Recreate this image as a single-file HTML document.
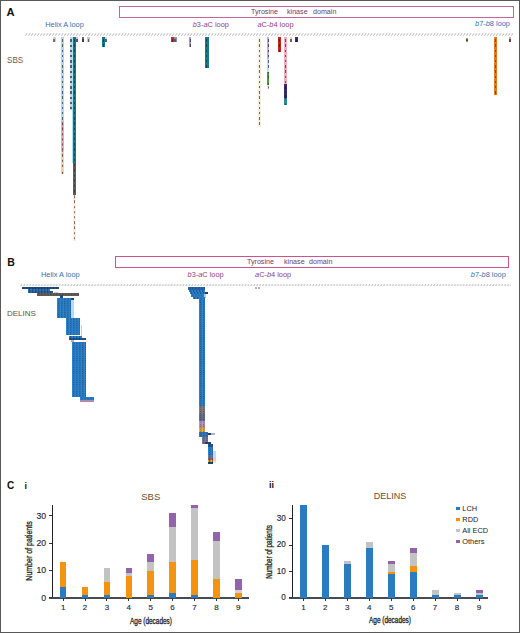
<!DOCTYPE html>
<html><head><meta charset="utf-8"><style>
html,body{margin:0;padding:0;background:#fff;}
#r{position:relative;width:520px;height:633px;overflow:hidden;background:#fff;}
#bd{left:0;top:0;width:520px;height:633px;box-sizing:border-box;border:1px solid #585858;z-index:9;}
#r div{position:absolute;}
.t{font-family:"Liberation Sans", sans-serif;line-height:1;white-space:nowrap;}
</style></head><body><div id="r">
<div class="t" style="left:6.5px;top:6.72px;font-size:11.2px;color:#111;font-weight:bold;font-style:normal;">A</div>
<div style="left:119px;top:5.8px;width:395px;height:12.4px;background:transparent;border:1.1px solid #c4649a;box-sizing:border-box;"></div>
<div class="t" style="left:251px;top:8.15px;font-size:7.5px;color:#6e3d6a;font-weight:normal;font-style:normal;transform:scaleX(0.95);transform-origin:0 0;">Tyrosine</div>
<div class="t" style="left:287.2px;top:8.15px;font-size:7.5px;color:#6e3d6a;font-weight:normal;font-style:normal;transform:scaleX(0.95);transform-origin:0 0;">kinase</div>
<div class="t" style="left:313.2px;top:8.15px;font-size:7.5px;color:#6e3d6a;font-weight:normal;font-style:normal;transform:scaleX(0.95);transform-origin:0 0;">domain</div>
<div class="t" style="left:45.2px;top:20.84px;font-size:7.4px;color:#3174b0;font-weight:normal;font-style:normal;">Helix A loop</div>
<div class="t" style="left:192.7px;top:20.74px;font-size:7.4px;color:#963a88;font-weight:normal;font-style:normal;"><i>b</i>3-<i>a</i>C loop</div>
<div class="t" style="left:257.4px;top:20.74px;font-size:7.4px;color:#963a88;font-weight:normal;font-style:normal;"><i>a</i>C-<i>b</i>4 loop</div>
<div class="t" style="left:475px;top:20.44px;font-size:7.4px;color:#3174b0;font-weight:normal;font-style:normal;"><i>b</i>7-<i>b</i>8 loop</div>
<div class="t" style="left:6.5px;top:56.02px;font-size:8.6px;color:#775a36;font-weight:normal;font-style:normal;transform:scaleX(0.94);transform-origin:0 0;">SBS</div>
<svg style="position:absolute;left:25px;top:32.8px" width="488" height="3.0"><defs><pattern id="pa" x="0" y="0" width="3.0" height="3.0" patternUnits="userSpaceOnUse"><path d="M0.45 2.70 L1.95 0.3" stroke="#a8a8a8" stroke-width="0.9" fill="none"/></pattern></defs><rect width="488" height="3.0" fill="url(#pa)"/></svg>
<div style="left:53.4px;top:37.2px;width:2.2px;height:4.599999999999994px;background:#d0d0d0;background:linear-gradient(90deg,#d0d0d0 0 0.40px,transparent 0.40px 1.80px,#d0d0d0 1.80px),repeating-linear-gradient(180deg,transparent 0 2.3px,#707070 2.3px 4.7px,transparent 4.7px 5.2px) 0 -0.00px,#d0d0d0;"></div>
<div style="left:61.2px;top:37.2px;width:2.7px;height:83.8px;background:#bad2ee;background:linear-gradient(90deg,#bad2ee 0 0.55px,transparent 0.55px 2.15px,#bad2ee 2.15px),repeating-linear-gradient(180deg,transparent 0 2.3px,#535e6b 2.3px 4.7px,transparent 4.7px 5.2px) 0 -0.00px,#bad2ee;"></div>
<div style="left:61.2px;top:121px;width:2.7px;height:29.599999999999994px;background:#e8aab6;background:linear-gradient(90deg,#e8aab6 0 0.55px,transparent 0.55px 2.15px,#e8aab6 2.15px),repeating-linear-gradient(180deg,transparent 0 2.3px,#684c51 2.3px 4.7px,transparent 4.7px 5.2px) 0 -0.60px,#e8aab6;"></div>
<div style="left:61.2px;top:150.6px;width:2.7px;height:23.099999999999994px;background:#f6ceb0;background:linear-gradient(90deg,#f6ceb0 0 0.55px,transparent 0.55px 2.15px,#f6ceb0 2.15px),repeating-linear-gradient(180deg,transparent 0 2.3px,#6e5c4f 2.3px 4.7px,transparent 4.7px 5.2px) 0 -4.20px,#f6ceb0;"></div>
<div style="left:70.2px;top:37.2px;width:2.3px;height:72.8px;background:#bad2ee;background:linear-gradient(90deg,#bad2ee 0 0.40px,transparent 0.40px 1.90px,#bad2ee 1.90px),repeating-linear-gradient(180deg,transparent 0 2.3px,#535e6b 2.3px 4.7px,transparent 4.7px 5.2px) 0 -0.00px,#bad2ee;"></div>
<div style="left:72.4px;top:37.2px;width:1.1px;height:126px;background:#a8e0ee;"></div>
<div style="left:73.4px;top:37.2px;width:2.7px;height:126.2px;background:#12798a;background:linear-gradient(90deg,#12798a 0 0.55px,transparent 0.55px 2.15px,#12798a 2.15px),repeating-linear-gradient(180deg,transparent 0 2.3px,#0b4b55 2.3px 4.7px,transparent 4.7px 5.2px) 0 -0.00px,#12798a;"></div>
<div style="left:73.4px;top:163.4px;width:2.7px;height:31.599999999999994px;background:#5e5e5e;background:linear-gradient(90deg,#5e5e5e 0 0.55px,transparent 0.55px 2.15px,#5e5e5e 2.15px),repeating-linear-gradient(180deg,transparent 0 2.3px,#3a3a3a 2.3px 4.7px,transparent 4.7px 5.2px) 0 -1.40px,#5e5e5e;"></div>
<div style="left:73px;top:195px;width:3px;height:46px;background:#fdeee4;background:linear-gradient(90deg,#fdeee4 0 0.70px,transparent 0.70px 2.30px,#fdeee4 2.30px),repeating-linear-gradient(180deg,transparent 0 2.3px,rgba(40,30,30,0.6) 2.3px 4.7px,transparent 4.7px 5.2px) 0 -1.80px,#fdeee4;"></div>
<div style="left:76.2px;top:37.2px;width:2px;height:5.099999999999994px;background:#c2c6e6;background:linear-gradient(90deg,#c2c6e6 0 0.40px,transparent 0.40px 1.60px,#c2c6e6 1.60px),repeating-linear-gradient(180deg,transparent 0 2.3px,#575967 2.3px 4.7px,transparent 4.7px 5.2px) 0 -0.00px,#c2c6e6;"></div>
<div style="left:81.5px;top:37.2px;width:2.4px;height:5.099999999999994px;background:#6a6a6a;background:linear-gradient(90deg,#6a6a6a 0 0.40px,transparent 0.40px 2.00px,#6a6a6a 2.00px),repeating-linear-gradient(180deg,transparent 0 2.3px,#3a3a3a 2.3px 4.7px,transparent 4.7px 5.2px) 0 -0.00px,#6a6a6a;"></div>
<div style="left:87.4px;top:37.2px;width:2.8px;height:5.099999999999994px;background:#c8ccd4;background:linear-gradient(90deg,#c8ccd4 0 0.60px,transparent 0.60px 2.20px,#c8ccd4 2.20px),repeating-linear-gradient(180deg,transparent 0 2.3px,#5a5b5f 2.3px 4.7px,transparent 4.7px 5.2px) 0 -0.00px,#c8ccd4;"></div>
<div style="left:102px;top:37.2px;width:3px;height:10.299999999999997px;background:#12798a;background:linear-gradient(90deg,#12798a 0 0.70px,transparent 0.70px 2.30px,#12798a 2.30px),repeating-linear-gradient(180deg,transparent 0 2.3px,#0b4b55 2.3px 4.7px,transparent 4.7px 5.2px) 0 -0.00px,#12798a;"></div>
<div style="left:105.2px;top:37.2px;width:2px;height:4.799999999999997px;background:#c6d8ee;background:linear-gradient(90deg,#c6d8ee 0 0.40px,transparent 0.40px 1.60px,#c6d8ee 1.60px),repeating-linear-gradient(180deg,transparent 0 2.3px,#59616b 2.3px 4.7px,transparent 4.7px 5.2px) 0 -0.00px,#c6d8ee;"></div>
<div style="left:171px;top:37.2px;width:3.4px;height:4.599999999999994px;background:#c2301f;background:linear-gradient(90deg,#c2301f 0 0.90px,transparent 0.90px 2.50px,#c2301f 2.50px),repeating-linear-gradient(180deg,transparent 0 2.3px,#781d13 2.3px 4.7px,transparent 4.7px 5.2px) 0 -0.00px,#c2301f;"></div>
<div style="left:174.4px;top:37.2px;width:2.3px;height:4.599999999999994px;background:#8894aa;background:linear-gradient(90deg,#8894aa 0 0.40px,transparent 0.40px 1.90px,#8894aa 1.90px),repeating-linear-gradient(180deg,transparent 0 2.3px,#545b69 2.3px 4.7px,transparent 4.7px 5.2px) 0 -0.00px,#8894aa;"></div>
<div style="left:188.6px;top:37.2px;width:2.9px;height:9.799999999999997px;background:#a898c8;background:linear-gradient(90deg,#a898c8 0 0.65px,transparent 0.65px 2.25px,#a898c8 2.25px),repeating-linear-gradient(180deg,transparent 0 2.3px,#4b445a 2.3px 4.7px,transparent 4.7px 5.2px) 0 -0.00px,#a898c8;"></div>
<div style="left:205.4px;top:37.2px;width:3.2px;height:31.200000000000003px;background:#12798a;background:linear-gradient(90deg,#12798a 0 0.80px,transparent 0.80px 2.40px,#12798a 2.40px),repeating-linear-gradient(180deg,transparent 0 2.3px,#0b4b55 2.3px 4.7px,transparent 4.7px 5.2px) 0 -0.00px,#12798a;"></div>
<div style="left:258px;top:37.2px;width:2.8px;height:89.8px;background:#f5efe2;background:linear-gradient(90deg,#f5efe2 0 0.60px,transparent 0.60px 2.20px,#f5efe2 2.20px),repeating-linear-gradient(180deg,transparent 0 2.3px,#6a6a6a 2.3px 4.7px,transparent 4.7px 5.2px) 0 -0.00px,#f5efe2;"></div>
<div style="left:266.6px;top:37.2px;width:2.7px;height:21.799999999999997px;background:#b6aee0;background:linear-gradient(90deg,#b6aee0 0 0.55px,transparent 0.55px 2.15px,#b6aee0 2.15px),repeating-linear-gradient(180deg,transparent 0 2.3px,#514e64 2.3px 4.7px,transparent 4.7px 5.2px) 0 -0.00px,#b6aee0;"></div>
<div style="left:266.6px;top:59px;width:2.7px;height:13px;background:#c8daf8;background:linear-gradient(90deg,#c8daf8 0 0.55px,transparent 0.55px 2.15px,#c8daf8 2.15px),repeating-linear-gradient(180deg,transparent 0 2.3px,#5a626f 2.3px 4.7px,transparent 4.7px 5.2px) 0 -1.00px,#c8daf8;"></div>
<div style="left:266.6px;top:72px;width:2.7px;height:12.599999999999994px;background:#4c9a3c;background:linear-gradient(90deg,#4c9a3c 0 0.55px,transparent 0.55px 2.15px,#4c9a3c 2.15px),repeating-linear-gradient(180deg,transparent 0 2.3px,#2f5f25 2.3px 4.7px,transparent 4.7px 5.2px) 0 -3.60px,#4c9a3c;"></div>
<div style="left:266.6px;top:84.6px;width:2.7px;height:4.400000000000006px;background:#ece4d4;background:linear-gradient(90deg,#ece4d4 0 0.55px,transparent 0.55px 2.15px,#ece4d4 2.15px),repeating-linear-gradient(180deg,transparent 0 2.3px,#6a665f 2.3px 4.7px,transparent 4.7px 5.2px) 0 -0.60px,#ece4d4;"></div>
<div style="left:277.7px;top:37.2px;width:3.2px;height:15.299999999999997px;background:#bb2a18;background:linear-gradient(90deg,#bb2a18 0 0.80px,transparent 0.80px 2.40px,#bb2a18 2.40px),repeating-linear-gradient(180deg,transparent 0 2.3px,#731a0e 2.3px 4.7px,transparent 4.7px 5.2px) 0 -0.00px,#bb2a18;"></div>
<div style="left:283.5px;top:37.2px;width:3.2px;height:46.599999999999994px;background:#eeb0bf;background:linear-gradient(90deg,#eeb0bf 0 0.80px,transparent 0.80px 2.40px,#eeb0bf 2.40px),repeating-linear-gradient(180deg,transparent 0 2.3px,#6b4f55 2.3px 4.7px,transparent 4.7px 5.2px) 0 -0.00px,#eeb0bf;"></div>
<div style="left:283.5px;top:83.8px;width:3.2px;height:14.200000000000003px;background:#3a2c6c;background:linear-gradient(90deg,#3a2c6c 0 0.80px,transparent 0.80px 2.40px,#3a2c6c 2.40px),repeating-linear-gradient(180deg,transparent 0 2.3px,#231b42 2.3px 4.7px,transparent 4.7px 5.2px) 0 -5.00px,#3a2c6c;"></div>
<div style="left:283.5px;top:98px;width:3.2px;height:7px;background:#2a8aa0;background:linear-gradient(90deg,#2a8aa0 0 0.80px,transparent 0.80px 2.40px,#2a8aa0 2.40px),repeating-linear-gradient(180deg,transparent 0 2.3px,#1a5563 2.3px 4.7px,transparent 4.7px 5.2px) 0 -3.60px,#2a8aa0;"></div>
<div style="left:289.9px;top:37.2px;width:2px;height:4.799999999999997px;background:#f4d2b0;background:linear-gradient(90deg,#f4d2b0 0 0.40px,transparent 0.40px 1.60px,#f4d2b0 1.60px),repeating-linear-gradient(180deg,transparent 0 2.3px,#6d5e4f 2.3px 4.7px,transparent 4.7px 5.2px) 0 -0.00px,#f4d2b0;"></div>
<div style="left:295px;top:37.2px;width:2.8px;height:4.799999999999997px;background:#3c2c72;background:linear-gradient(90deg,#3c2c72 0 0.60px,transparent 0.60px 2.20px,#3c2c72 2.20px),repeating-linear-gradient(180deg,transparent 0 2.3px,#251b46 2.3px 4.7px,transparent 4.7px 5.2px) 0 -0.00px,#3c2c72;"></div>
<div style="left:465.6px;top:38px;width:2.3px;height:4px;background:#a8a878;background:linear-gradient(90deg,#a8a878 0 0.40px,transparent 0.40px 1.90px,#a8a878 1.90px),repeating-linear-gradient(180deg,transparent 0 2.3px,#4b4b36 2.3px 4.7px,transparent 4.7px 5.2px) 0 -0.80px,#a8a878;"></div>
<div style="left:494.4px;top:37.2px;width:2.9px;height:57.8px;background:#e07a22;background:linear-gradient(90deg,#e07a22 0 0.65px,transparent 0.65px 2.25px,#e07a22 2.25px),repeating-linear-gradient(180deg,transparent 0 2.3px,#8a4b15 2.3px 4.7px,transparent 4.7px 5.2px) 0 -0.00px,#e07a22;"></div>
<div style="left:508.8px;top:37.2px;width:2.6px;height:4.799999999999997px;background:#d6a4a4;background:linear-gradient(90deg,#d6a4a4 0 0.50px,transparent 0.50px 2.10px,#d6a4a4 2.10px),repeating-linear-gradient(180deg,transparent 0 2.3px,#604949 2.3px 4.7px,transparent 4.7px 5.2px) 0 -0.00px,#d6a4a4;"></div>
<div class="t" style="left:7.2px;top:257.11px;font-size:10.5px;color:#111;font-weight:bold;font-style:normal;">B</div>
<div style="left:115px;top:256.3px;width:394px;height:11.4px;background:transparent;border:1.1px solid #c85490;box-sizing:border-box;"></div>
<div class="t" style="left:247.3px;top:258.25px;font-size:7.5px;color:#6e3d6a;font-weight:normal;font-style:normal;transform:scaleX(0.95);transform-origin:0 0;">Tyrosine</div>
<div class="t" style="left:283.6px;top:258.25px;font-size:7.5px;color:#6e3d6a;font-weight:normal;font-style:normal;transform:scaleX(0.95);transform-origin:0 0;">kinase</div>
<div class="t" style="left:308.8px;top:258.25px;font-size:7.5px;color:#6e3d6a;font-weight:normal;font-style:normal;transform:scaleX(0.95);transform-origin:0 0;">domain</div>
<div class="t" style="left:41px;top:270.94px;font-size:7.4px;color:#3174b0;font-weight:normal;font-style:normal;">Helix A loop</div>
<div class="t" style="left:187.5px;top:271.34px;font-size:7.4px;color:#963a88;font-weight:normal;font-style:normal;"><i>b</i>3-<i>a</i>C loop</div>
<div class="t" style="left:255px;top:270.94px;font-size:7.4px;color:#963a88;font-weight:normal;font-style:normal;"><i>a</i>C-<i>b</i>4 loop</div>
<div class="t" style="left:470.8px;top:271.14px;font-size:7.4px;color:#3174b0;font-weight:normal;font-style:normal;"><i>b</i>7-<i>b</i>8 loop</div>
<div class="t" style="left:6.9px;top:309.93px;font-size:8px;color:#6e5232;font-weight:normal;font-style:normal;">DELINS</div>
<svg style="position:absolute;left:19.8px;top:283.6px" width="491" height="2.3"><defs><pattern id="pb" x="0" y="0" width="2.95" height="2.3" patternUnits="userSpaceOnUse"><path d="M0.44 2.00 L1.92 0.3" stroke="#a8a8a8" stroke-width="0.9" fill="none"/></pattern></defs><rect width="491" height="2.3" fill="url(#pb)"/></svg>
<div style="left:21.8px;top:286.7px;width:37.2px;height:2.3000000000000114px;background:#234f80;background:radial-gradient(ellipse 0.9px 0.8px at 1.5px 1.1px,rgba(10,40,80,0.45) 0 70%,transparent 100%) 0 0/3px 2.2px,repeating-linear-gradient(90deg,transparent 0 2.4px,rgba(10,40,80,0.15) 2.4px 3px),#234f80;"></div>
<div style="left:28px;top:289px;width:22.299999999999997px;height:2.1999999999999886px;background:#3474b2;background:radial-gradient(ellipse 0.9px 0.8px at 1.5px 1.1px,rgba(10,40,80,0.45) 0 70%,transparent 100%) 0 0/3px 2.2px,repeating-linear-gradient(90deg,transparent 0 2.4px,rgba(10,40,80,0.15) 2.4px 3px),#3474b2;"></div>
<div style="left:28px;top:291.2px;width:25.4px;height:2.1999999999999886px;background:#2767a8;background:radial-gradient(ellipse 0.9px 0.8px at 1.5px 1.1px,rgba(10,40,80,0.45) 0 70%,transparent 100%) 0 0/3px 2.2px,repeating-linear-gradient(90deg,transparent 0 2.4px,rgba(10,40,80,0.15) 2.4px 3px),#2767a8;"></div>
<div style="left:53.6px;top:291.6px;width:4.5px;height:1.4px;background:rgba(150,150,150,0.5);"></div>
<div style="left:36.5px;top:293.4px;width:42.400000000000006px;height:2.2000000000000455px;background:#6a5e52;background:radial-gradient(ellipse 0.9px 0.8px at 1.5px 1.1px,rgba(10,40,80,0.45) 0 70%,transparent 100%) 0 0/3px 2.2px,repeating-linear-gradient(90deg,transparent 0 2.4px,rgba(10,40,80,0.15) 2.4px 3px),#6a5e52;"></div>
<div style="left:60.3px;top:295.4px;width:2.3000000000000043px;height:2.5px;background:#1f4f86;background:radial-gradient(ellipse 0.9px 0.8px at 1.5px 1.1px,rgba(10,40,80,0.45) 0 70%,transparent 100%) 0 0/3px 2.2px,repeating-linear-gradient(90deg,transparent 0 2.4px,rgba(10,40,80,0.15) 2.4px 3px),#1f4f86;"></div>
<div style="left:56.7px;top:297.9px;width:14.299999999999997px;height:19.80000000000001px;background:#2d82cb;background:radial-gradient(ellipse 0.9px 0.8px at 1.5px 1.1px,rgba(10,40,80,0.45) 0 70%,transparent 100%) 0 0/3px 2.2px,repeating-linear-gradient(90deg,transparent 0 2.4px,rgba(10,40,80,0.15) 2.4px 3px),#2d82cb;"></div>
<div style="left:71px;top:300px;width:2.5px;height:17.7px;background:#bcdaf2;"></div>
<div style="left:71px;top:297.9px;width:2.700000000000003px;height:2.1000000000000227px;background:#1f4f86;background:radial-gradient(ellipse 0.9px 0.8px at 1.5px 1.1px,rgba(10,40,80,0.45) 0 70%,transparent 100%) 0 0/3px 2.2px,repeating-linear-gradient(90deg,transparent 0 2.4px,rgba(10,40,80,0.15) 2.4px 3px),#1f4f86;"></div>
<div style="left:65.8px;top:317.7px;width:14.200000000000003px;height:17.80000000000001px;background:#2d82cb;background:radial-gradient(ellipse 0.9px 0.8px at 1.5px 1.1px,rgba(10,40,80,0.45) 0 70%,transparent 100%) 0 0/3px 2.2px,repeating-linear-gradient(90deg,transparent 0 2.4px,rgba(10,40,80,0.15) 2.4px 3px),#2d82cb;"></div>
<div style="left:80.5px;top:325px;width:1.5px;height:10.5px;background:#b8d4ea;"></div>
<div style="left:68.6px;top:335.5px;width:13.800000000000011px;height:2.5px;background:#2d82cb;background:radial-gradient(ellipse 0.9px 0.8px at 1.5px 1.1px,rgba(10,40,80,0.45) 0 70%,transparent 100%) 0 0/3px 2.2px,repeating-linear-gradient(90deg,transparent 0 2.4px,rgba(10,40,80,0.15) 2.4px 3px),#2d82cb;"></div>
<div style="left:68.6px;top:338px;width:17.0px;height:1.8000000000000114px;background:#1f5a94;background:radial-gradient(ellipse 0.9px 0.8px at 1.5px 1.1px,rgba(10,40,80,0.45) 0 70%,transparent 100%) 0 0/3px 2.2px,repeating-linear-gradient(90deg,transparent 0 2.4px,rgba(10,40,80,0.15) 2.4px 3px),#1f5a94;"></div>
<div style="left:71.3px;top:340px;width:2.4px;height:1.6px;background:#e0a0b0;"></div>
<div style="left:71.6px;top:342.2px;width:14.400000000000006px;height:55.19999999999999px;background:#2d82cb;background:radial-gradient(ellipse 0.9px 0.8px at 1.5px 1.1px,rgba(10,40,80,0.45) 0 70%,transparent 100%) 0 0/3px 2.2px,repeating-linear-gradient(90deg,transparent 0 2.4px,rgba(10,40,80,0.15) 2.4px 3px),#2d82cb;"></div>
<div style="left:79.9px;top:397.4px;width:14.399999999999991px;height:2.8000000000000114px;background:#2d82cb;background:radial-gradient(ellipse 0.9px 0.8px at 1.5px 1.1px,rgba(10,40,80,0.45) 0 70%,transparent 100%) 0 0/3px 2.2px,repeating-linear-gradient(90deg,transparent 0 2.4px,rgba(10,40,80,0.15) 2.4px 3px),#2d82cb;"></div>
<div style="left:79.9px;top:400.2px;width:14.4px;height:1.6px;background:#b08aa8;"></div>
<div style="left:187.8px;top:287.2px;width:16.899999999999977px;height:2.400000000000034px;background:#2769ad;background:radial-gradient(ellipse 0.9px 0.8px at 1.5px 1.1px,rgba(10,40,80,0.45) 0 70%,transparent 100%) 0 0/3px 2.2px,repeating-linear-gradient(90deg,transparent 0 2.4px,rgba(10,40,80,0.15) 2.4px 3px),#2769ad;"></div>
<div style="left:188.6px;top:289.6px;width:16.900000000000006px;height:2.3999999999999773px;background:#2d82cb;background:radial-gradient(ellipse 0.9px 0.8px at 1.5px 1.1px,rgba(10,40,80,0.45) 0 70%,transparent 100%) 0 0/3px 2.2px,repeating-linear-gradient(90deg,transparent 0 2.4px,rgba(10,40,80,0.15) 2.4px 3px),#2d82cb;"></div>
<div style="left:190.2px;top:292px;width:15.100000000000023px;height:2.3000000000000114px;background:#2d82cb;background:radial-gradient(ellipse 0.9px 0.8px at 1.5px 1.1px,rgba(10,40,80,0.45) 0 70%,transparent 100%) 0 0/3px 2.2px,repeating-linear-gradient(90deg,transparent 0 2.4px,rgba(10,40,80,0.15) 2.4px 3px),#2d82cb;"></div>
<div style="left:205.3px;top:292.3px;width:2.4px;height:1.5px;background:#1d3f6a;"></div>
<div style="left:191.2px;top:294.3px;width:12.5px;height:2.3000000000000114px;background:#2d82cb;background:radial-gradient(ellipse 0.9px 0.8px at 1.5px 1.1px,rgba(10,40,80,0.45) 0 70%,transparent 100%) 0 0/3px 2.2px,repeating-linear-gradient(90deg,transparent 0 2.4px,rgba(10,40,80,0.15) 2.4px 3px),#2d82cb;"></div>
<div style="left:203.7px;top:294.3px;width:2.3px;height:3.5px;background:#a8d0ee;"></div>
<div style="left:193.4px;top:296.6px;width:5.900000000000006px;height:2.3999999999999773px;background:#2d82cb;background:radial-gradient(ellipse 0.9px 0.8px at 1.5px 1.1px,rgba(10,40,80,0.45) 0 70%,transparent 100%) 0 0/3px 2.2px,repeating-linear-gradient(90deg,transparent 0 2.4px,rgba(10,40,80,0.15) 2.4px 3px),#2d82cb;"></div>
<div style="left:199.3px;top:296.6px;width:5.5px;height:109.29999999999995px;background:#2d82cb;background:radial-gradient(ellipse 0.9px 0.8px at 1.5px 1.1px,rgba(10,40,80,0.45) 0 70%,transparent 100%) 0 0/3px 2.2px,repeating-linear-gradient(90deg,transparent 0 2.4px,rgba(10,40,80,0.15) 2.4px 3px),#2d82cb;"></div>
<div style="left:199.2px;top:405.9px;width:5.600000000000023px;height:8.100000000000023px;background:#8c7c7e;background:radial-gradient(ellipse 0.9px 0.8px at 1.5px 1.1px,rgba(10,40,80,0.45) 0 70%,transparent 100%) 0 0/3px 2.2px,repeating-linear-gradient(90deg,transparent 0 2.4px,rgba(10,40,80,0.15) 2.4px 3px),#8c7c7e;"></div>
<div style="left:199.2px;top:414px;width:5.600000000000023px;height:7px;background:#6c7284;background:radial-gradient(ellipse 0.9px 0.8px at 1.5px 1.1px,rgba(10,40,80,0.45) 0 70%,transparent 100%) 0 0/3px 2.2px,repeating-linear-gradient(90deg,transparent 0 2.4px,rgba(10,40,80,0.15) 2.4px 3px),#6c7284;"></div>
<div style="left:199.2px;top:421px;width:5.600000000000023px;height:4.300000000000011px;background:#b598dc;background:radial-gradient(ellipse 0.9px 0.8px at 1.5px 1.1px,rgba(10,40,80,0.45) 0 70%,transparent 100%) 0 0/3px 2.2px,repeating-linear-gradient(90deg,transparent 0 2.4px,rgba(10,40,80,0.15) 2.4px 3px),#b598dc;"></div>
<div style="left:199.2px;top:425.3px;width:5.600000000000023px;height:2.6999999999999886px;background:#cf9274;background:radial-gradient(ellipse 0.9px 0.8px at 1.5px 1.1px,rgba(10,40,80,0.45) 0 70%,transparent 100%) 0 0/3px 2.2px,repeating-linear-gradient(90deg,transparent 0 2.4px,rgba(10,40,80,0.15) 2.4px 3px),#cf9274;"></div>
<div style="left:199.2px;top:428px;width:5.600000000000023px;height:3.6000000000000227px;background:#e6b046;background:radial-gradient(ellipse 0.9px 0.8px at 1.5px 1.1px,rgba(10,40,80,0.45) 0 70%,transparent 100%) 0 0/3px 2.2px,repeating-linear-gradient(90deg,transparent 0 2.4px,rgba(10,40,80,0.15) 2.4px 3px),#e6b046;"></div>
<div style="left:199.2px;top:431.6px;width:8.700000000000017px;height:5.399999999999977px;background:#3478bc;background:radial-gradient(ellipse 0.9px 0.8px at 1.5px 1.1px,rgba(10,40,80,0.45) 0 70%,transparent 100%) 0 0/3px 2.2px,repeating-linear-gradient(90deg,transparent 0 2.4px,rgba(10,40,80,0.15) 2.4px 3px),#3478bc;"></div>
<div style="left:207.9px;top:433px;width:3px;height:2px;background:#1d3f6a;"></div>
<div style="left:211px;top:433.3px;width:4.4px;height:1.4px;background:rgba(70,90,120,0.45);"></div>
<div style="left:201.9px;top:437px;width:6.0px;height:6.600000000000023px;background:#7a7894;background:radial-gradient(ellipse 0.9px 0.8px at 1.5px 1.1px,rgba(10,40,80,0.45) 0 70%,transparent 100%) 0 0/3px 2.2px,repeating-linear-gradient(90deg,transparent 0 2.4px,rgba(10,40,80,0.15) 2.4px 3px),#7a7894;"></div>
<div style="left:204.9px;top:441.8px;width:5.699999999999989px;height:2.099999999999966px;background:#2a4a70;background:radial-gradient(ellipse 0.9px 0.8px at 1.5px 1.1px,rgba(10,40,80,0.45) 0 70%,transparent 100%) 0 0/3px 2.2px,repeating-linear-gradient(90deg,transparent 0 2.4px,rgba(10,40,80,0.15) 2.4px 3px),#2a4a70;"></div>
<div style="left:207.9px;top:443.9px;width:5.400000000000006px;height:3.1000000000000227px;background:#1e5a90;background:radial-gradient(ellipse 0.9px 0.8px at 1.5px 1.1px,rgba(10,40,80,0.45) 0 70%,transparent 100%) 0 0/3px 2.2px,repeating-linear-gradient(90deg,transparent 0 2.4px,rgba(10,40,80,0.15) 2.4px 3px),#1e5a90;"></div>
<div style="left:207.9px;top:447px;width:5.400000000000006px;height:8px;background:#2d82cb;background:radial-gradient(ellipse 0.9px 0.8px at 1.5px 1.1px,rgba(10,40,80,0.45) 0 70%,transparent 100%) 0 0/3px 2.2px,repeating-linear-gradient(90deg,transparent 0 2.4px,rgba(10,40,80,0.15) 2.4px 3px),#2d82cb;"></div>
<div style="left:207.9px;top:455px;width:5.400000000000006px;height:2.5px;background:#6a7a9a;background:radial-gradient(ellipse 0.9px 0.8px at 1.5px 1.1px,rgba(10,40,80,0.45) 0 70%,transparent 100%) 0 0/3px 2.2px,repeating-linear-gradient(90deg,transparent 0 2.4px,rgba(10,40,80,0.15) 2.4px 3px),#6a7a9a;"></div>
<div style="left:207.9px;top:457.5px;width:5.400000000000006px;height:2.5px;background:#8a6a70;background:radial-gradient(ellipse 0.9px 0.8px at 1.5px 1.1px,rgba(10,40,80,0.45) 0 70%,transparent 100%) 0 0/3px 2.2px,repeating-linear-gradient(90deg,transparent 0 2.4px,rgba(10,40,80,0.15) 2.4px 3px),#8a6a70;"></div>
<div style="left:207.9px;top:460px;width:5.400000000000006px;height:2.1999999999999886px;background:#e8a830;background:radial-gradient(ellipse 0.9px 0.8px at 1.5px 1.1px,rgba(10,40,80,0.45) 0 70%,transparent 100%) 0 0/3px 2.2px,repeating-linear-gradient(90deg,transparent 0 2.4px,rgba(10,40,80,0.15) 2.4px 3px),#e8a830;"></div>
<div style="left:207.9px;top:462.2px;width:5.400000000000006px;height:1.8000000000000114px;background:#15506e;background:radial-gradient(ellipse 0.9px 0.8px at 1.5px 1.1px,rgba(10,40,80,0.45) 0 70%,transparent 100%) 0 0/3px 2.2px,repeating-linear-gradient(90deg,transparent 0 2.4px,rgba(10,40,80,0.15) 2.4px 3px),#15506e;"></div>
<div style="left:213.3px;top:450.8px;width:2.7px;height:12.2px;background:linear-gradient(180deg,#c8dcf0 0 50%,#e8c8d8 50% 80%,#f8e0b8 80%);"></div>
<div style="left:254.8px;top:287.3px;width:2.2px;height:1.6px;background:#b4b4b4;"></div>
<div style="left:257.8px;top:287.3px;width:2.2px;height:1.6px;background:#b4b4b4;"></div>
<div class="t" style="left:6.9px;top:480.94px;font-size:10px;color:#111;font-weight:bold;font-style:normal;">C</div>
<div class="t" style="left:24.6px;top:481.68px;font-size:9px;color:#111;font-weight:bold;font-style:normal;">i</div>
<div class="t" style="left:269px;top:480.88px;font-size:9px;color:#111;font-weight:bold;font-style:normal;">ii</div>
<div class="t" style="left:50.80000000000001px;width:200px;text-align:center;top:491.66px;font-size:9.5px;color:#6e4e2c;font-weight:normal;font-style:normal;">SBS</div>
<div class="t" style="left:290px;width:200px;text-align:center;top:492.28px;font-size:9px;color:#6e4c28;font-weight:normal;font-style:normal;">DELINS</div>
<div style="left:51.9px;top:504.7px;width:1.1px;height:93.69999999999999px;background:#222;"></div>
<div style="left:49.4px;top:597.3px;width:199.6px;height:1.4px;background:#464a52;"></div>
<div style="left:49.4px;top:597.4px;width:3px;height:1px;background:#333;"></div>
<div class="t" style="left:-153.8px;width:200px;text-align:right;top:593.64px;font-size:8.7px;color:#2a2a2a;font-weight:normal;font-style:normal;-webkit-text-stroke:0.15px #2a2a2a;">0</div>
<div style="left:49.4px;top:570.02px;width:3px;height:1px;background:#333;"></div>
<div class="t" style="left:-153.8px;width:200px;text-align:right;top:566.26px;font-size:8.7px;color:#2a2a2a;font-weight:normal;font-style:normal;-webkit-text-stroke:0.15px #2a2a2a;">10</div>
<div style="left:49.4px;top:542.64px;width:3px;height:1px;background:#333;"></div>
<div class="t" style="left:-153.8px;width:200px;text-align:right;top:538.88px;font-size:8.7px;color:#2a2a2a;font-weight:normal;font-style:normal;-webkit-text-stroke:0.15px #2a2a2a;">20</div>
<div style="left:49.4px;top:515.26px;width:3px;height:1px;background:#333;"></div>
<div class="t" style="left:-153.8px;width:200px;text-align:right;top:511.50px;font-size:8.7px;color:#2a2a2a;font-weight:normal;font-style:normal;-webkit-text-stroke:0.15px #2a2a2a;">30</div>
<div style="left:59.85px;top:562.3059999999999px;width:6.5px;height:35.594px;background:linear-gradient(0deg,#2a7bbf 0.00px 10.95px,#f3930f 10.95px 35.59px);"></div>
<div style="left:62.6px;top:597.9px;width:1px;height:3px;background:#333;"></div>
<div class="t" style="left:-36.9px;width:200px;text-align:center;top:604.43px;font-size:8px;color:#2a2a2a;font-weight:normal;font-style:normal;-webkit-text-stroke:0.15px #2a2a2a;">1</div>
<div style="left:81.75px;top:586.948px;width:6.5px;height:10.952px;background:linear-gradient(0deg,#2a7bbf 0.00px 2.74px,#f3930f 2.74px 10.95px);"></div>
<div style="left:84.5px;top:597.9px;width:1px;height:3px;background:#333;"></div>
<div class="t" style="left:-15.0px;width:200px;text-align:center;top:604.43px;font-size:8px;color:#2a2a2a;font-weight:normal;font-style:normal;-webkit-text-stroke:0.15px #2a2a2a;">2</div>
<div style="left:103.65px;top:567.7819999999999px;width:6.5px;height:30.118px;background:linear-gradient(0deg,#2a7bbf 0.00px 2.74px,#f3930f 2.74px 16.43px,#c3c3c3 16.43px 30.12px);"></div>
<div style="left:106.4px;top:597.9px;width:1px;height:3px;background:#333;"></div>
<div class="t" style="left:6.900000000000006px;width:200px;text-align:center;top:604.43px;font-size:8px;color:#2a2a2a;font-weight:normal;font-style:normal;-webkit-text-stroke:0.15px #2a2a2a;">3</div>
<div style="left:125.54999999999998px;top:567.7819999999999px;width:6.5px;height:30.118px;background:linear-gradient(0deg,#f3930f 0.00px 21.90px,#c3c3c3 21.90px 24.64px,#9264ab 24.64px 30.12px);"></div>
<div style="left:128.29999999999998px;top:597.9px;width:1px;height:3px;background:#333;"></div>
<div class="t" style="left:28.799999999999983px;width:200px;text-align:center;top:604.43px;font-size:8px;color:#2a2a2a;font-weight:normal;font-style:normal;-webkit-text-stroke:0.15px #2a2a2a;">4</div>
<div style="left:147.45px;top:554.092px;width:6.5px;height:43.808px;background:linear-gradient(0deg,#2a7bbf 0.00px 2.74px,#f3930f 2.74px 27.38px,#c3c3c3 27.38px 35.59px,#9264ab 35.59px 43.81px);"></div>
<div style="left:150.2px;top:597.9px;width:1px;height:3px;background:#333;"></div>
<div class="t" style="left:50.69999999999999px;width:200px;text-align:center;top:604.43px;font-size:8px;color:#2a2a2a;font-weight:normal;font-style:normal;-webkit-text-stroke:0.15px #2a2a2a;">5</div>
<div style="left:169.35px;top:513.0219999999999px;width:6.5px;height:84.878px;background:linear-gradient(0deg,#2a7bbf 0.00px 5.48px,#f3930f 5.48px 35.59px,#c3c3c3 35.59px 71.19px,#9264ab 71.19px 84.88px);"></div>
<div style="left:172.1px;top:597.9px;width:1px;height:3px;background:#333;"></div>
<div class="t" style="left:72.6px;width:200px;text-align:center;top:604.43px;font-size:8px;color:#2a2a2a;font-weight:normal;font-style:normal;-webkit-text-stroke:0.15px #2a2a2a;">6</div>
<div style="left:191.24999999999997px;top:504.808px;width:6.5px;height:93.092px;background:linear-gradient(0deg,#2a7bbf 0.00px 2.74px,#f3930f 2.74px 38.33px,#c3c3c3 38.33px 90.35px,#9264ab 90.35px 93.09px);"></div>
<div style="left:193.99999999999997px;top:597.9px;width:1px;height:3px;background:#333;"></div>
<div class="t" style="left:94.49999999999997px;width:200px;text-align:center;top:604.43px;font-size:8px;color:#2a2a2a;font-weight:normal;font-style:normal;-webkit-text-stroke:0.15px #2a2a2a;">7</div>
<div style="left:213.14999999999998px;top:532.188px;width:6.5px;height:65.712px;background:linear-gradient(0deg,#f3930f 0.00px 19.17px,#c3c3c3 19.17px 57.50px,#9264ab 57.50px 65.71px);"></div>
<div style="left:215.89999999999998px;top:597.9px;width:1px;height:3px;background:#333;"></div>
<div class="t" style="left:116.39999999999998px;width:200px;text-align:center;top:604.43px;font-size:8px;color:#2a2a2a;font-weight:normal;font-style:normal;-webkit-text-stroke:0.15px #2a2a2a;">8</div>
<div style="left:235.04999999999998px;top:578.7339999999999px;width:6.5px;height:19.166px;background:linear-gradient(0deg,#f3930f 0.00px 5.48px,#d8cce0 5.48px 8.21px,#9264ab 8.21px 19.17px);"></div>
<div style="left:237.79999999999998px;top:597.9px;width:1px;height:3px;background:#333;"></div>
<div class="t" style="left:138.29999999999998px;width:200px;text-align:center;top:604.43px;font-size:8px;color:#2a2a2a;font-weight:normal;font-style:normal;-webkit-text-stroke:0.15px #2a2a2a;">9</div>
<div class="t" style="left:-20.7px;top:546.1px;width:100px;height:10px;line-height:10px;text-align:center;font-size:9.2px;color:#222;-webkit-text-stroke:0.3px #222;transform:rotate(-90deg) scaleX(0.765);">Number of patients</div>
<div class="t" style="left:100.6px;top:617.10px;width:100px;text-align:center;font-size:8.5px;color:#222;-webkit-text-stroke:0.3px #222;transform:scaleX(0.76);">Age (decades)</div>
<div style="left:291.5px;top:504.6px;width:1.1px;height:93.79999999999995px;background:#222;"></div>
<div style="left:289px;top:597.3px;width:199px;height:1.4px;background:#464a52;"></div>
<div style="left:289px;top:597.4px;width:3px;height:1px;background:#333;"></div>
<div class="t" style="left:85.80000000000001px;width:200px;text-align:right;top:594.16px;font-size:8.2px;color:#2a2a2a;font-weight:normal;font-style:normal;-webkit-text-stroke:0.15px #2a2a2a;">0</div>
<div style="left:289px;top:570.9499999999999px;width:3px;height:1px;background:#333;"></div>
<div class="t" style="left:85.80000000000001px;width:200px;text-align:right;top:567.71px;font-size:8.2px;color:#2a2a2a;font-weight:normal;font-style:normal;-webkit-text-stroke:0.15px #2a2a2a;">10</div>
<div style="left:289px;top:544.5px;width:3px;height:1px;background:#333;"></div>
<div class="t" style="left:85.80000000000001px;width:200px;text-align:right;top:541.26px;font-size:8.2px;color:#2a2a2a;font-weight:normal;font-style:normal;-webkit-text-stroke:0.15px #2a2a2a;">20</div>
<div style="left:289px;top:518.05px;width:3px;height:1px;background:#333;"></div>
<div class="t" style="left:85.80000000000001px;width:200px;text-align:right;top:514.81px;font-size:8.2px;color:#2a2a2a;font-weight:normal;font-style:normal;-webkit-text-stroke:0.15px #2a2a2a;">30</div>
<div style="left:299.9px;top:505.325px;width:7px;height:92.575px;background:linear-gradient(0deg,#2a7bbf 0.00px 92.58px);"></div>
<div style="left:302.9px;top:597.9px;width:1px;height:3px;background:#333;"></div>
<div class="t" style="left:203.39999999999998px;width:200px;text-align:center;top:604.03px;font-size:8px;color:#2a2a2a;font-weight:normal;font-style:normal;-webkit-text-stroke:0.15px #2a2a2a;">1</div>
<div style="left:321.84999999999997px;top:545.0px;width:7px;height:52.9px;background:linear-gradient(0deg,#2a7bbf 0.00px 52.90px);"></div>
<div style="left:324.84999999999997px;top:597.9px;width:1px;height:3px;background:#333;"></div>
<div class="t" style="left:225.34999999999997px;width:200px;text-align:center;top:604.03px;font-size:8px;color:#2a2a2a;font-weight:normal;font-style:normal;-webkit-text-stroke:0.15px #2a2a2a;">2</div>
<div style="left:343.79999999999995px;top:560.87px;width:7px;height:37.03px;background:linear-gradient(0deg,#2a7bbf 0.00px 34.38px,#c3c3c3 34.38px 37.03px);"></div>
<div style="left:346.79999999999995px;top:597.9px;width:1px;height:3px;background:#333;"></div>
<div class="t" style="left:247.29999999999995px;width:200px;text-align:center;top:604.03px;font-size:8px;color:#2a2a2a;font-weight:normal;font-style:normal;-webkit-text-stroke:0.15px #2a2a2a;">3</div>
<div style="left:365.75px;top:542.355px;width:7px;height:55.545px;background:linear-gradient(0deg,#2a7bbf 0.00px 50.26px,#c3c3c3 50.26px 55.55px);"></div>
<div style="left:368.75px;top:597.9px;width:1px;height:3px;background:#333;"></div>
<div class="t" style="left:269.25px;width:200px;text-align:center;top:604.03px;font-size:8px;color:#2a2a2a;font-weight:normal;font-style:normal;-webkit-text-stroke:0.15px #2a2a2a;">4</div>
<div style="left:387.7px;top:560.87px;width:7px;height:37.03px;background:linear-gradient(0deg,#2a7bbf 0.00px 23.80px,#f3930f 23.80px 26.45px,#c3c3c3 26.45px 34.38px,#9264ab 34.38px 37.03px);"></div>
<div style="left:390.7px;top:597.9px;width:1px;height:3px;background:#333;"></div>
<div class="t" style="left:291.2px;width:200px;text-align:center;top:604.03px;font-size:8px;color:#2a2a2a;font-weight:normal;font-style:normal;-webkit-text-stroke:0.15px #2a2a2a;">5</div>
<div style="left:409.65px;top:547.645px;width:7px;height:50.255px;background:linear-gradient(0deg,#2a7bbf 0.00px 26.45px,#f3930f 26.45px 31.74px,#c3c3c3 31.74px 44.97px,#9264ab 44.97px 50.26px);"></div>
<div style="left:412.65px;top:597.9px;width:1px;height:3px;background:#333;"></div>
<div class="t" style="left:313.15px;width:200px;text-align:center;top:604.03px;font-size:8px;color:#2a2a2a;font-weight:normal;font-style:normal;-webkit-text-stroke:0.15px #2a2a2a;">6</div>
<div style="left:431.59999999999997px;top:589.965px;width:7px;height:7.9350000000000005px;background:linear-gradient(0deg,#2a7bbf 0.00px 2.65px,#c3c3c3 2.65px 7.94px);"></div>
<div style="left:434.59999999999997px;top:597.9px;width:1px;height:3px;background:#333;"></div>
<div class="t" style="left:335.09999999999997px;width:200px;text-align:center;top:604.03px;font-size:8px;color:#2a2a2a;font-weight:normal;font-style:normal;-webkit-text-stroke:0.15px #2a2a2a;">7</div>
<div style="left:453.54999999999995px;top:592.61px;width:7px;height:5.29px;background:linear-gradient(0deg,#2a7bbf 0.00px 2.65px,#c3c3c3 2.65px 5.29px);"></div>
<div style="left:456.54999999999995px;top:597.9px;width:1px;height:3px;background:#333;"></div>
<div class="t" style="left:357.04999999999995px;width:200px;text-align:center;top:604.03px;font-size:8px;color:#2a2a2a;font-weight:normal;font-style:normal;-webkit-text-stroke:0.15px #2a2a2a;">8</div>
<div style="left:475.5px;top:589.965px;width:7px;height:7.9350000000000005px;background:linear-gradient(0deg,#2a7bbf 0.00px 2.65px,#c3c3c3 2.65px 5.29px,#9264ab 5.29px 7.94px);"></div>
<div style="left:478.5px;top:597.9px;width:1px;height:3px;background:#333;"></div>
<div class="t" style="left:379.0px;width:200px;text-align:center;top:604.03px;font-size:8px;color:#2a2a2a;font-weight:normal;font-style:normal;-webkit-text-stroke:0.15px #2a2a2a;">9</div>
<div class="t" style="left:219.2px;top:546.5px;width:100px;height:10px;line-height:10px;text-align:center;font-size:8.6px;color:#222;-webkit-text-stroke:0.3px #222;transform:rotate(-90deg) scaleX(0.74);">Number of patients</div>
<div class="t" style="left:339.6px;top:616.10px;width:100px;text-align:center;font-size:8.5px;color:#222;-webkit-text-stroke:0.3px #222;transform:scaleX(0.76);">Age (decades)</div>
<div style="left:456px;top:506.7px;width:3.6px;height:3.6px;background:#2a7bbf;"></div>
<div class="t" style="left:462.3px;top:504.84px;font-size:7.4px;color:#222;font-weight:normal;font-style:normal;">LCH</div>
<div style="left:456px;top:517.7px;width:3.6px;height:3.6px;background:#f3930f;"></div>
<div class="t" style="left:462.3px;top:515.84px;font-size:7.4px;color:#222;font-weight:normal;font-style:normal;">RDD</div>
<div style="left:456px;top:528.7px;width:3.6px;height:3.6px;background:#c3c3c3;"></div>
<div class="t" style="left:462.3px;top:526.84px;font-size:7.4px;color:#222;font-weight:normal;font-style:normal;">All ECD</div>
<div style="left:456px;top:539.7px;width:3.6px;height:3.6px;background:#9264ab;"></div>
<div class="t" style="left:462.3px;top:537.84px;font-size:7.4px;color:#222;font-weight:normal;font-style:normal;">Others</div>
<div id="bd"></div>
</div></body></html>
